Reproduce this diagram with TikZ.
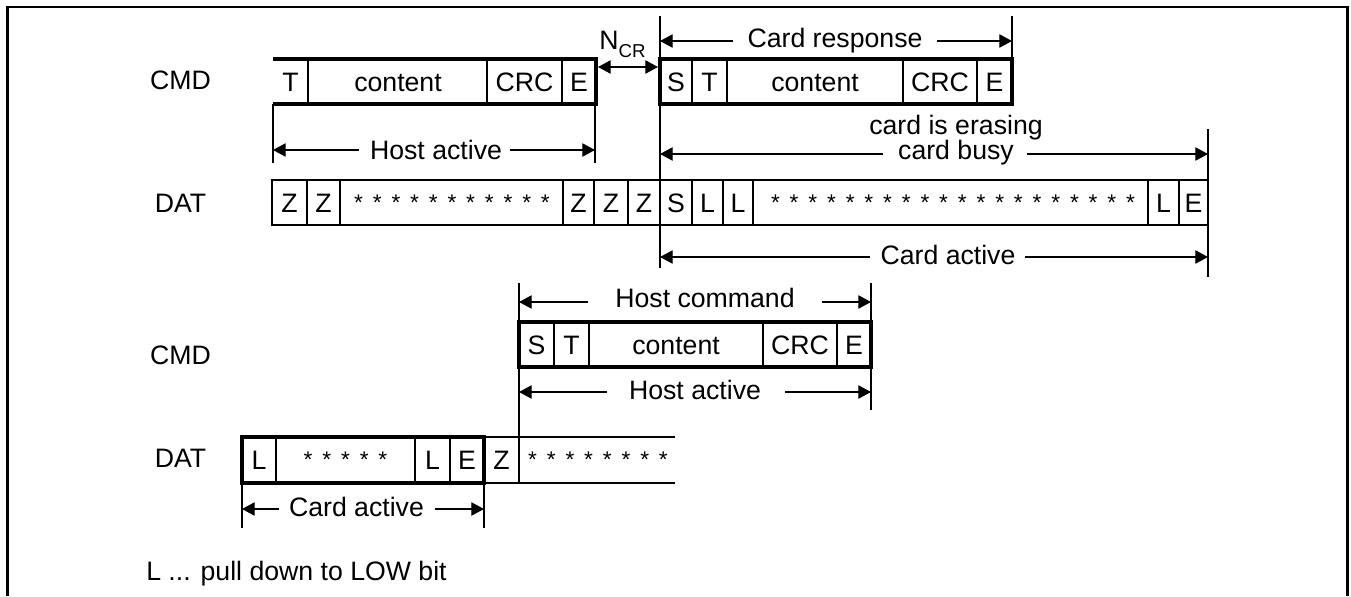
\documentclass[tikz,border=0pt]{standalone}
\usepackage{fontspec}
\setmainfont{Liberation Sans}
\usetikzlibrary{arrows.meta}
\newcommand\starrow[1]{\foreach \i in {1,...,#1}{\ifnum\i>1 \hspace{7.4pt}\fi *}}
\begin{document}
\begin{tikzpicture}[x=0.75pt,y=-0.75pt,
  thinline/.style={line width=0.9pt},
  boxline/.style={line width=2.4pt},
  lbl/.style={inner sep=0pt, font=\fontsize{20pt}{20pt}\selectfont, text height=14.3pt, text depth=0pt},
  starsty/.style={inner sep=0pt, anchor=base, font=\fontsize{17pt}{17pt}\selectfont},
  dimarrow/.style={thinline, -{Triangle[length=9.5pt,width=10pt]}},
  dimboth/.style={thinline, {Triangle[length=9.5pt,width=10pt]}-{Triangle[length=9.5pt,width=10pt]}},
]
\useasboundingbox (0,0) rectangle (1351,596);
% frame
\draw[line width=2pt] (7.5,596) -- (7.5,6);
\draw[line width=1pt] (6,7) -- (1349,7);
\draw[line width=2pt] (1347.5,6) -- (1347.5,596);

% signal labels
\node[lbl] (cmdA) at (180.5,80) {CMD};
\node[lbl] (datA) at (180.5,203) {DAT};
\node[lbl] (cmdB) at (180.5,355) {CMD};
\node[lbl] (datB) at (180.5,457.5) {DAT};

% ---------- first CMD frame (host command) ----------
\draw[boxline] (273,59) -- (596,59) -- (596,104) -- (273,104);
\foreach \x in {308,487,562} \draw[thinline] (\x,59) -- (\x,104);
\node[lbl] (h1T) at (290.5,81.5) {T};
\node[lbl] (h1c) at (398,81.5) {content};
\node[lbl] (h1crc) at (524.5,81.5) {CRC};
\node[lbl] (h1E) at (579,81.5) {E};

% ---------- card response frame ----------
\draw[boxline] (660,59) rectangle (1012,104);
\foreach \x in {692,727,903,977} \draw[thinline] (\x,59) -- (\x,104);
\node[lbl] (r1S) at (676,81.5) {S};
\node[lbl] (r1T) at (709.5,81.5) {T};
\node[lbl] (r1c) at (815,81.5) {content};
\node[lbl] (r1crc) at (940,81.5) {CRC};
\node[lbl] (r1E) at (994.5,81.5) {E};

% ---------- first DAT line ----------
\draw[thinline] (272,180) rectangle (1208,225);
\foreach \x in {307,340,563,594,628,660,692,723,753,1148,1179} \draw[thinline] (\x,180) -- (\x,225);
\node[lbl] (d1Z1) at (289.5,202.5) {Z};
\node[lbl] (d1Z2) at (323.5,202.5) {Z};
\node[starsty] (d1s1) at (452,210) {\starrow{11}};
\node[lbl] (d1Z3) at (578.5,202.5) {Z};
\node[lbl] (d1Z4) at (611,202.5) {Z};
\node[lbl] (d1Z5) at (644,202.5) {Z};
\node[lbl] (d1S) at (676,202.5) {S};
\node[lbl] (d1L1) at (707.5,202.5) {L};
\node[lbl] (d1L2) at (738,202.5) {L};
\node[starsty] (d1s2) at (953,210) {\starrow{20}};
\node[lbl] (d1L3) at (1163.5,202.5) {L};
\node[lbl] (d1E) at (1193.5,202.5) {E};

% ---------- extension lines (upper part) ----------
\draw[thinline] (273,104) -- (273,163);
\draw[thinline] (595,104) -- (595,163);
\draw[thinline] (660,16) -- (660,268);
\draw[thinline] (1012,16) -- (1012,59);
\draw[thinline] (1208,129) -- (1208,277);

% N_CR
\node[lbl] (ncr) at (622.5,39.5) {N\raisebox{-6pt}{\fontsize{14pt}{14pt}\selectfont CR}};
\coordinate (ncrL) at (598,67);
\coordinate (ncrR) at (658,67);
\draw[dimboth] (ncrL) -- (ncrR);

% Card response
\node[lbl] (crsp) at (835,37.5) {Card response};
\coordinate (crspLg) at (733,41); \coordinate (crspL) at (660,41);
\coordinate (crspRg) at (937,41); \coordinate (crspR) at (1012,41);
\draw[dimarrow] (crspLg) -- (crspL);
\draw[dimarrow] (crspRg) -- (crspR);

% Host active (upper)
\node[lbl] (hact1) at (436,150) {Host active};
\coordinate (hact1Lg) at (359,150); \coordinate (hact1L) at (273,150);
\coordinate (hact1Rg) at (510,150); \coordinate (hact1R) at (595,150);
\draw[dimarrow] (hact1Lg) -- (hact1L);
\draw[dimarrow] (hact1Rg) -- (hact1R);

% card is erasing / card busy
\node[lbl, anchor=base] (erase) at (956,134) {card is erasing};
\node[lbl, anchor=base] (busy) at (956,159) {card busy};
\coordinate (busyLg) at (883,154); \coordinate (busyL) at (660,154);
\coordinate (busyRg) at (1027,154); \coordinate (busyR) at (1208,154);
\draw[dimarrow] (busyLg) -- (busyL);
\draw[dimarrow] (busyRg) -- (busyR);

% Card active (upper)
\node[lbl] (cact1) at (948,255) {Card active};
\coordinate (cact1Lg) at (870,257); \coordinate (cact1L) at (660,257);
\coordinate (cact1Rg) at (1025,257); \coordinate (cact1R) at (1208,257);
\draw[dimarrow] (cact1Lg) -- (cact1L);
\draw[dimarrow] (cact1Rg) -- (cact1R);

% ---------- lower CMD frame (host command) ----------
\draw[boxline] (519,322) rectangle (871,367);
\foreach \x in {554,589,763,837} \draw[thinline] (\x,322) -- (\x,367);
\node[lbl] (h2S) at (536.5,344.5) {S};
\node[lbl] (h2T) at (571.5,344.5) {T};
\node[lbl] (h2c) at (676,344.5) {content};
\node[lbl] (h2crc) at (800,344.5) {CRC};
\node[lbl] (h2E) at (854,344.5) {E};

% ---------- lower DAT line ----------
\draw[thinline] (484,437) -- (675,437);
\draw[thinline] (484,483) -- (675,483);
\draw[boxline] (242,437) rectangle (484,483);
\foreach \x in {276,415,450} \draw[thinline] (\x,437) -- (\x,483);
\node[lbl] (d2L1) at (259,460) {L};
\node[starsty] (d2s1) at (345.5,467.5) {\starrow{5}};
\node[lbl] (d2L2) at (432.5,460) {L};
\node[lbl] (d2E) at (467,460) {E};
\node[lbl] (d2Z) at (501.5,460) {Z};
\node[starsty] (d2s2) at (598,467.5) {\starrow{8}};

% extension lines (lower part)
\draw[thinline] (519,283) -- (519,483);
\draw[thinline] (871,283) -- (871,410);
\draw[thinline] (242,483) -- (242,528);
\draw[thinline] (484,483) -- (484,528);

% Host command
\node[lbl] (hcmd) at (705,297.5) {Host command};
\coordinate (hcmdLg) at (588,302); \coordinate (hcmdL) at (519,302);
\coordinate (hcmdRg) at (822,302); \coordinate (hcmdR) at (871,302);
\draw[dimarrow] (hcmdLg) -- (hcmdL);
\draw[dimarrow] (hcmdRg) -- (hcmdR);

% Host active (lower)
\node[lbl] (hact2) at (695,389.5) {Host active};
\coordinate (hact2Lg) at (607,392); \coordinate (hact2L) at (519,392);
\coordinate (hact2Rg) at (785,392); \coordinate (hact2R) at (871,392);
\draw[dimarrow] (hact2Lg) -- (hact2L);
\draw[dimarrow] (hact2Rg) -- (hact2R);

% Card active (lower)
\node[lbl] (cact2) at (356.5,507) {Card active};
\coordinate (cact2Lg) at (279,509); \coordinate (cact2L) at (242,509);
\coordinate (cact2Rg) at (435,509); \coordinate (cact2R) at (484,509);
\draw[dimarrow] (cact2Lg) -- (cact2L);
\draw[dimarrow] (cact2Rg) -- (cact2R);

% legend
\node[lbl, anchor=west] (legend) at (146,571) {L ... pull down to LOW bit};
\end{tikzpicture}
\end{document}
